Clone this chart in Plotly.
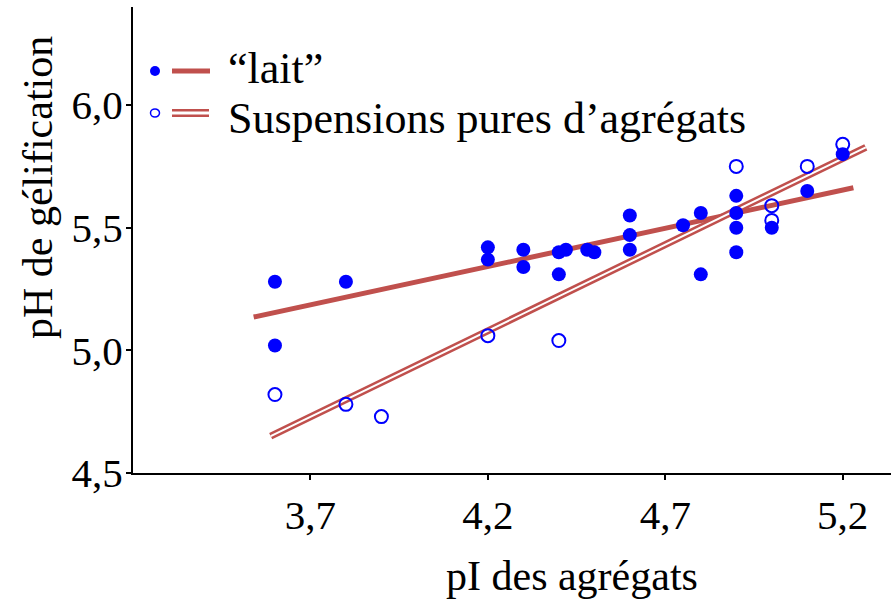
import plotly.graph_objects as go

# --- data -----------------------------------------------------------------
# "lait" : gelation pH vs aggregate pI (filled symbols)
lait_pi = [3.6, 3.6, 3.8, 4.2, 4.2, 4.3, 4.3, 4.4, 4.42, 4.4, 4.48, 4.5,
           4.6, 4.6, 4.6, 4.75, 4.8, 4.8, 4.9, 4.9, 4.9, 4.9, 5.0, 5.1, 5.2]
lait_ph = [5.28, 5.02, 5.28, 5.42, 5.37, 5.41, 5.34, 5.40, 5.41, 5.31, 5.41, 5.40,
           5.55, 5.47, 5.41, 5.51, 5.56, 5.31, 5.63, 5.56, 5.50, 5.40, 5.50, 5.65, 5.80]

# pure aggregate suspensions (open symbols)
susp_pi = [3.6, 3.8, 3.9, 4.2, 4.4, 4.9, 5.0, 5.0, 5.1, 5.2]
susp_ph = [4.82, 4.78, 4.73, 5.06, 5.04, 5.75, 5.59, 5.53, 5.75, 5.84]

# linear trend lines (end points)
lait_fit_x = [3.54, 5.23]
lait_fit_y = [5.136, 5.663]
susp_fit_x = [3.588, 5.265]
susp_fit_y = [4.65, 5.828]

x_ticks = [3.7, 4.2, 4.7, 5.2]
y_ticks = [4.5, 5.0, 5.5, 6.0]

legend_labels = ["\u201clait\u201d", "Suspensions pures d\u2019agr\u00e9gats"]

# --- style ------------------------------------------------------------------
FONT = "Liberation Serif, Times New Roman, serif"
RED = "#C0504D"
BLUE = "#0000FF"

W, H = 891, 602
M_L, M_R, M_T, M_B = 133, 0, 7, 129
PW, PH = W - M_L - M_R, H - M_T - M_B


def px(x):
    return (x - M_L) / PW


def py(y):
    return (H - M_B - y) / PH


fig = go.Figure()

fig.add_trace(go.Scatter(x=lait_fit_x, y=lait_fit_y, mode="lines",
                         line=dict(color=RED, width=5), showlegend=False,
                         hoverinfo="skip"))
fig.add_trace(go.Scatter(x=susp_fit_x, y=susp_fit_y, mode="lines",
                         line=dict(color=RED, width=7), showlegend=False,
                         hoverinfo="skip"))
fig.add_trace(go.Scatter(x=susp_fit_x, y=susp_fit_y, mode="lines",
                         line=dict(color="white", width=2), showlegend=False,
                         hoverinfo="skip"))

fig.add_trace(go.Scatter(x=lait_pi, y=lait_ph, mode="markers",
                         marker=dict(symbol="circle", size=14, color=BLUE,
                                     line=dict(width=0)),
                         name=legend_labels[0], showlegend=False))
fig.add_trace(go.Scatter(x=susp_pi, y=susp_ph, mode="markers",
                         marker=dict(symbol="circle-open", size=13, color=BLUE,
                                     line=dict(width=2, color=BLUE)),
                         name=legend_labels[1], showlegend=False))

# --- hand-built legend ----------------------------------------------------
shapes = []
annotations = []
rows = [71, 113]
# row 1: filled dot + thick line
shapes.append(dict(type="circle", xref="paper", yref="paper",
                   xsizemode="pixel", ysizemode="pixel",
                   xanchor=px(155), yanchor=py(rows[0]),
                   x0=-5, x1=5, y0=-5, y1=5,
                   fillcolor=BLUE, line=dict(width=0)))
shapes.append(dict(type="line", xref="paper", yref="paper",
                   x0=px(172), x1=px(210), y0=py(rows[0]), y1=py(rows[0]),
                   line=dict(color=RED, width=5)))
# row 2: open circle + double line
shapes.append(dict(type="circle", xref="paper", yref="paper",
                   xsizemode="pixel", ysizemode="pixel",
                   xanchor=px(155), yanchor=py(rows[1]),
                   x0=-4.5, x1=4.5, y0=-4, y1=4,
                   fillcolor="rgba(0,0,0,0)", line=dict(color=BLUE, width=1.5)))
shapes.append(dict(type="line", xref="paper", yref="paper",
                   x0=px(172), x1=px(209), y0=py(rows[1]), y1=py(rows[1]),
                   line=dict(color=RED, width=8)))
shapes.append(dict(type="line", xref="paper", yref="paper",
                   x0=px(171), x1=px(210), y0=py(rows[1]), y1=py(rows[1]),
                   line=dict(color="white", width=3)))

for lbl, yc in zip(legend_labels, [68, 118]):
    annotations.append(dict(text=lbl, xref="paper", yref="paper",
                            x=px(226), y=py(yc), xanchor="left", yanchor="middle",
                            showarrow=False,
                            font=dict(family=FONT, size=44, color="black")))

# axis titles
annotations.append(dict(text="pI des agr\u00e9gats", xref="paper", yref="paper",
                        x=px(572), y=py(576), xanchor="center", yanchor="middle",
                        showarrow=False,
                        font=dict(family=FONT, size=42, color="black")))
annotations.append(dict(text="pH de g\u00e9lification", xref="paper", yref="paper",
                        x=px(38), y=py(188), xanchor="center", yanchor="middle",
                        textangle=-90, showarrow=False,
                        font=dict(family=FONT, size=42, color="black")))

axis_common = dict(showline=True, linecolor="black", linewidth=2,
                   ticks="outside", ticklen=5, tickwidth=1.5, tickcolor="black",
                   showgrid=False, zeroline=False, mirror=False,
                   tickformat=".1f",
                   tickfont=dict(family=FONT, size=41, color="black"))

fig.update_xaxes(range=[3.2, 5.336], tickvals=x_ticks, **axis_common)
fig.update_yaxes(range=[4.5, 6.4], tickvals=y_ticks, ticklabelstandoff=-5,
                 **axis_common)

fig.update_layout(width=W, height=H,
                  margin=dict(l=M_L, r=M_R, t=M_T, b=M_B),
                  paper_bgcolor="white", plot_bgcolor="white",
                  separators=", ",
                  showlegend=False,
                  shapes=shapes, annotations=annotations)

fig.write_html("out.html")
